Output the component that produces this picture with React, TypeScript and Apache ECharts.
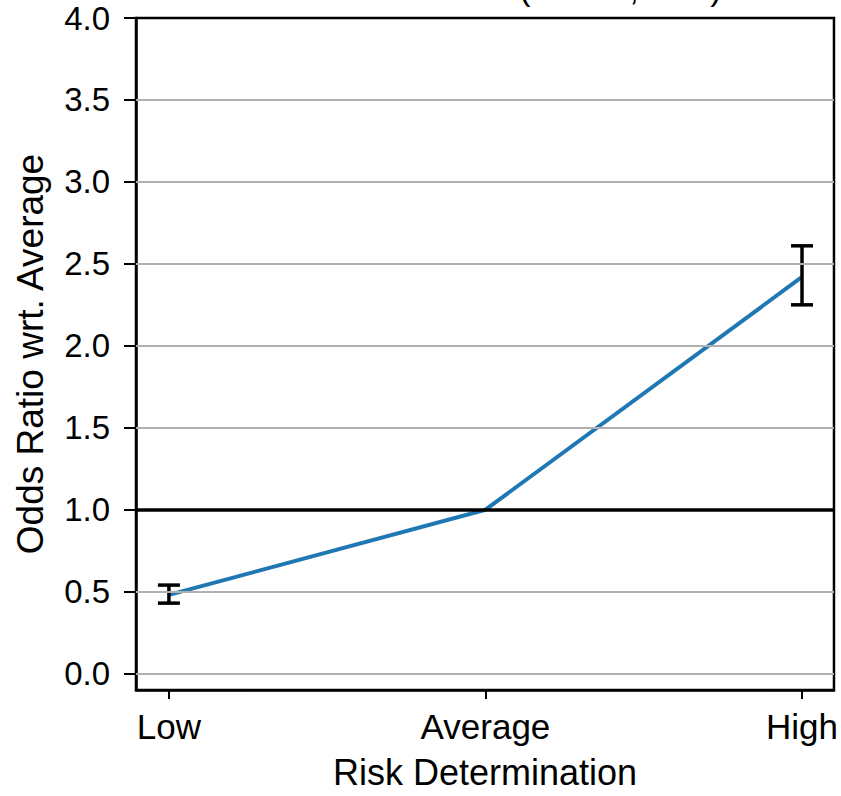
import React, { useEffect, useRef } from "react";
import * as echarts from "echarts";

const categories = ["Low", "Average", "High"];
const oddsRatio = [0.48, 1.0, 2.42];
const ciLower = [0.43, null, 2.25];
const ciUpper = [0.54, null, 2.61];
const yTicks = [0, 0.5, 1.0, 1.5, 2.0, 2.5, 3.0, 3.5, 4.0];
const gridTicks = [0, 0.5, 1.5, 2.0, 2.5, 3.0, 3.5];
const referenceValue = 1.0;

const FONT = "'Liberation Sans', Arial, Helvetica, sans-serif";

export default function App() {
  const ref = useRef<HTMLDivElement>(null);
  useEffect(() => {
    if (!ref.current) return;
    const chart = echarts.init(ref.current, null, { renderer: "svg" });
    const lineData = categories.map((_, i) => [i, oddsRatio[i]]);
    const errData = categories
      .map((_, i) => [i, ciLower[i], ciUpper[i]])
      .filter((d) => d[1] !== null && d[2] !== null);
    chart.setOption({
      animation: false,
      backgroundColor: "#ffffff",
      textStyle: { fontFamily: FONT },
      grid: {
        left: 136,
        right: 5,
        top: 18,
        bottom: 106,
        show: true,
        borderColor: "#000",
        borderWidth: 2.5,
        backgroundColor: "transparent",
      },
      graphic: [
        { type: "text", x: 525, y: -12, style: { text: "(", font: `34px ${FONT}`, fill: "#000", align: "center", verticalAlign: "middle" } },
        { type: "text", x: 634, y: -12, style: { text: ",", font: `34px ${FONT}`, fill: "#000", align: "center", verticalAlign: "middle" } },
        { type: "text", x: 716, y: -12, style: { text: ")", font: `34px ${FONT}`, fill: "#000", align: "center", verticalAlign: "middle" } },
      ],
      xAxis: {
        type: "value",
        min: -0.104,
        max: 2.101,
        name: "Risk Determination",
        nameLocation: "middle",
        nameGap: 64,
        nameTextStyle: { fontSize: 36, color: "#000", fontFamily: FONT },
        axisLine: { show: true, onZero: false, lineStyle: { color: "#000", width: 2.5 } },
        axisTick: { show: true, customValues: [0, 1, 2], length: 9, lineStyle: { color: "#000", width: 2 } },
        axisLabel: {
          customValues: [0, 1, 2],
          formatter: (v: number) => categories[Math.round(v)] ?? "",
          fontSize: 35,
          color: "#000",
          margin: 19,
          fontFamily: FONT,
        },
        splitLine: { show: false },
      },
      yAxis: {
        type: "value",
        min: -0.1,
        max: 4.0,
        name: "Odds Ratio wrt. Average",
        nameLocation: "middle",
        nameGap: 87,
        nameTextStyle: { fontSize: 37, color: "#000", fontFamily: FONT },
        axisLine: { show: true, onZero: false, lineStyle: { color: "#000", width: 2.5 } },
        axisTick: { show: true, customValues: yTicks, length: 12, lineStyle: { color: "#000", width: 2 } },
        axisLabel: {
          customValues: yTicks,
          formatter: (v: number) => v.toFixed(1),
          fontSize: 33,
          color: "#000",
          margin: 26,
          fontFamily: FONT,
        },
        splitLine: { show: false },
      },
      series: [
        {
          type: "line",
          data: [],
          z: 1,
          silent: true,
          markLine: {
            silent: true,
            symbol: "none",
            label: { show: false },
            lineStyle: { color: "#b0b0b0", width: 2, type: "solid" },
            data: gridTicks.map((v) => ({ yAxis: v })),
          },
        },
        {
          type: "line",
          data: [],
          z: 2,
          silent: true,
          markLine: {
            silent: true,
            symbol: "none",
            label: { show: false },
            lineStyle: { color: "#000", width: 3.5, type: "solid" },
            data: [{ yAxis: referenceValue }],
          },
        },
        {
          type: "line",
          data: lineData,
          z: 3,
          showSymbol: false,
          lineStyle: { color: "#1f77b4", width: 4 },
          itemStyle: { color: "#1f77b4" },
        },
        {
          type: "custom",
          z: 4,
          data: errData,
          renderItem: (params: any, api: any) => {
            const x = api.value(0);
            const lo = api.coord([x, api.value(1)]);
            const hi = api.coord([x, api.value(2)]);
            const w = 11;
            const style = { stroke: "#000", lineWidth: 3.5 };
            return {
              type: "group",
              children: [
                { type: "line", shape: { x1: lo[0], y1: lo[1], x2: hi[0], y2: hi[1] }, style },
                { type: "line", shape: { x1: lo[0] - w, y1: lo[1], x2: lo[0] + w, y2: lo[1] }, style },
                { type: "line", shape: { x1: hi[0] - w, y1: hi[1], x2: hi[0] + w, y2: hi[1] }, style },
              ],
            };
          },
        },
      ],
    });
    return () => chart.dispose();
  }, []);
  return (
    <div
      ref={ref}
      style={{ position: "fixed", left: 0, top: 0, width: 841, height: 796, background: "#fff" }}
    />
  );
}
